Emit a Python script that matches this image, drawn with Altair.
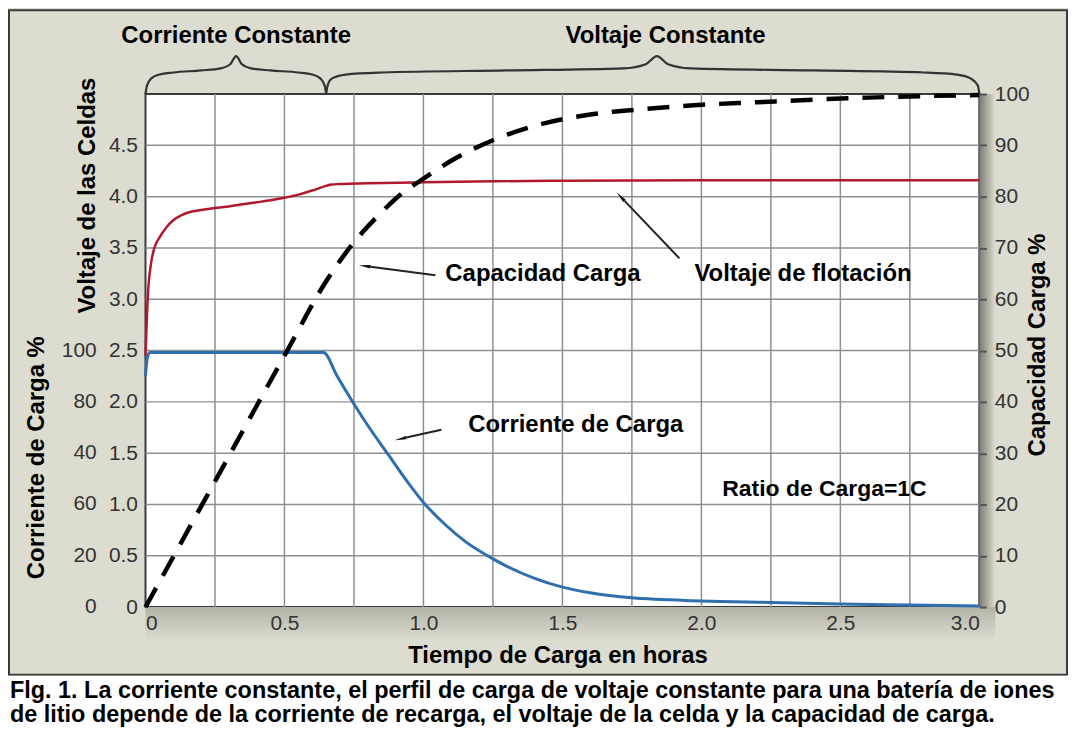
import math
import altair as alt
import pandas as pd

# ---------------- data ----------------
# Cell voltage (V) vs time (h)
red_t = [0, 0.004, 0.01, 0.02, 0.032, 0.05, 0.075, 0.1, 0.13, 0.16, 0.2, 0.25, 0.3, 0.35,
         0.4, 0.45, 0.5, 0.55, 0.6, 0.65, 0.67, 0.7, 0.8, 1.0, 1.25, 1.5, 2.0, 2.5, 3.0]
red_v = [2.45, 2.75, 3.1, 3.35, 3.5, 3.6, 3.7, 3.77, 3.82, 3.85, 3.87, 3.89, 3.905, 3.925,
         3.945, 3.965, 3.99, 4.02, 4.06, 4.105, 4.118, 4.123, 4.13, 4.14, 4.15, 4.155, 4.16, 4.16, 4.16]

# Charge current (plotted on the voltage scale, 2.5 = 100 %)
blue_t = [0, 0.006, 0.015, 0.64, 0.69, 0.75, 0.8, 0.875, 0.94, 1.0, 1.08, 1.15, 1.25, 1.4,
          1.5, 1.6, 1.75, 2.0, 2.25, 2.5, 2.75, 3.0]
blue_v = [2.25, 2.42, 2.48, 2.48, 2.25, 1.98, 1.77, 1.48, 1.23, 1.02, 0.8, 0.64, 0.47, 0.28,
          0.195, 0.14, 0.09, 0.06, 0.045, 0.03, 0.02, 0.01]

# Charge capacity (%)
cap_t = [0, 0.25, 0.5, 0.65, 0.72, 0.78, 0.85, 0.92, 1.0, 1.1, 1.25, 1.4, 1.6, 1.8, 2.0,
         2.2, 2.4, 2.6, 2.8, 3.0]
cap_p = [0, 24.5, 49, 63.5, 69, 73, 77, 80.5, 83.5, 87.0, 91.0, 93.8, 96, 97.1, 97.9,
         98.4, 98.9, 99.3, 99.6, 99.8]

# axes / tick labels
x_ticks = [0, 0.5, 1.0, 1.5, 2.0, 2.5, 3.0]
x_grid = [0.25, 0.5, 0.75, 1.0, 1.25, 1.5, 1.75, 2.0, 2.25, 2.5, 2.75]
v_ticks = [0, 0.5, 1.0, 1.5, 2.0, 2.5, 3.0, 3.5, 4.0, 4.5]
v_grid = [0.5, 1.0, 1.5, 2.0, 2.5, 3.0, 3.5, 4.0, 4.5]
cap_ticks = [0, 10, 20, 30, 40, 50, 60, 70, 80, 90, 100]
cur_tick_pos = [0, 0.5, 1.0, 1.5, 2.0, 2.5]
cur_tick_labels = ["0", "20", "60", "40", "80", "100"]

# curly braces above the plot (time, voltage-scale height)
brace1_t = [0, 0.005, 0.02, 0.05, 0.1, 0.2, 0.27, 0.305, 0.326, 0.347, 0.38, 0.45, 0.55, 0.60, 0.63, 0.645, 0.65]
brace1_v = [5.0, 5.08, 5.15, 5.19, 5.21, 5.23, 5.25, 5.29, 5.37, 5.29, 5.25, 5.23, 5.21, 5.19, 5.15, 5.08, 5.0]
brace2_t = [0.65, 0.655, 0.67, 0.72, 0.85, 1.3, 1.72, 1.80, 1.84, 1.88, 1.96, 2.4, 2.8, 2.92, 2.97, 2.995, 3.0]
brace2_v = [5.0, 5.08, 5.15, 5.19, 5.21, 5.23, 5.25, 5.29, 5.37, 5.29, 5.25, 5.23, 5.21, 5.19, 5.15, 5.08, 5.0]

# ---------------- layout / style ----------------
W, H = 837, 515
BG = "#dddcd0"
BOLD = "Liberation Sans"
LFONT = "Liberation Sans"
LBL = "#333333"
LSIZE = 21

df_red = pd.DataFrame({"t": red_t, "v": red_v})
df_blue = pd.DataFrame({"t": blue_t, "v": blue_v})
df_cap = pd.DataFrame({"t": cap_t, "p": cap_p})
df_b1 = pd.DataFrame({"t": brace1_t, "v": brace1_v, "o": range(len(brace1_t))})
df_b2 = pd.DataFrame({"t": brace2_t, "v": brace2_v, "o": range(len(brace2_t))})
df_cur = pd.DataFrame({"v": cur_tick_pos, "lab": cur_tick_labels})
dummy = pd.DataFrame({"a": [0]})

xs = alt.Scale(domain=[0, 3], nice=False)
vs = alt.Scale(domain=[0, 5], nice=False)
cs = alt.Scale(domain=[0, 100], nice=False)

x_axis = alt.Axis(values=x_ticks, grid=False, ticks=False, domain=False,
                  labelExpr="datum.value === 0 ? '0' : format(datum.value, '.1f')",
                  labelFont=LFONT, labelFontSize=LSIZE, labelColor=LBL, labelPadding=5,
                  labelFlush=True, title=None, zindex=1)
v_axis = alt.Axis(values=v_ticks, grid=False, ticks=False, domain=False,
                  labelExpr="datum.value === 0 ? '0' : format(datum.value, '.1f')",
                  labelFont=LFONT, labelFontSize=LSIZE, labelColor=LBL, labelPadding=8,
                  title=None, orient="left", zindex=1)
c_axis = alt.Axis(values=cap_ticks, grid=False, ticks=True, tickSize=7, tickWidth=2,
                  tickColor="#555555", domain=False, format="d",
                  labelFont=LFONT, labelFontSize=LSIZE, labelColor=LBL, labelPadding=8,
                  title=None, orient="right", zindex=1)


def rect(x, x2, y, y2, **kw):
    return alt.Chart(dummy).mark_rect(**kw).encode(
        x=alt.value(x), x2=alt.value(x2), y=alt.value(y), y2=alt.value(y2))


def text(s, x, y, size=24, angle=0, align="center", font=BOLD, weight="bold", color="black"):
    return alt.Chart(dummy).mark_text(
        text=s, fontSize=size, font=font, fontWeight=weight, angle=angle, align=align,
        baseline="middle", color=color).encode(x=alt.value(x), y=alt.value(y))


def arrow(x0, y0, x1, y1):
    dx, dy = x1 - x0, y1 - y0
    ln = math.hypot(dx, dy)
    ux, uy = dx / ln, dy / ln
    ang = (math.degrees(math.atan2(dx, -dy)) + 360) % 360
    hx, hy = x1 - ux * 6, y1 - uy * 6
    line = alt.Chart(dummy).mark_rule(color="#222222", strokeWidth=2).encode(
        x=alt.value(x0), y=alt.value(y0), x2=alt.value(hx - ux * 4), y2=alt.value(hy - uy * 4))
    head = alt.Chart(dummy).mark_point(shape="wedge", filled=True, size=190, color="#111111",
                                       opacity=1, angle=ang).encode(
        x=alt.value(hx), y=alt.value(hy))
    return line + head


shadow_r = rect(W, W + 16, 0, H + 30,
                color=alt.LinearGradient(gradient="linear", x1=0, x2=1, y1=0, y2=0,
                                         stops=[alt.GradientStop(color="#7d7c74", offset=0),
                                                alt.GradientStop(color=BG, offset=1)]))
shadow_b = rect(0, W + 16, H, H + 34,
                color=alt.LinearGradient(gradient="linear", x1=0, x2=0, y1=0, y2=1,
                                         stops=[alt.GradientStop(color="#b4b3a8", offset=0),
                                                alt.GradientStop(color=BG, offset=1)]))
border = rect(-137, 925, -84, 583, fill=BG, fillOpacity=0, stroke="#3a3a3a", strokeWidth=2)
white_cap = rect(-138, 926, 584, 640, color="white")

grid_x = alt.Chart(pd.DataFrame({"t": x_grid})).mark_rule(color="#8f8f8f", strokeWidth=1.5).encode(
    x=alt.X("t:Q", scale=xs, axis=x_axis))
grid_y = alt.Chart(pd.DataFrame({"v": v_grid})).mark_rule(color="#8f8f8f", strokeWidth=1.5).encode(
    y=alt.Y("v:Q", scale=vs, axis=v_axis))

red = alt.Chart(df_red).mark_line(color="#b2182b", strokeWidth=2.5, interpolate="monotone").encode(
    x=alt.X("t:Q", scale=xs), y=alt.Y("v:Q", scale=vs))
blue = alt.Chart(df_blue).mark_line(color="#2f6fae", strokeWidth=3, interpolate="monotone").encode(
    x=alt.X("t:Q", scale=xs), y=alt.Y("v:Q", scale=vs))
b1 = alt.Chart(df_b1).mark_line(color="#333333", strokeWidth=2.2, interpolate="monotone").encode(
    x=alt.X("t:Q", scale=xs), y=alt.Y("v:Q", scale=vs), order="o:Q")
b2 = alt.Chart(df_b2).mark_line(color="#333333", strokeWidth=2.2, interpolate="monotone").encode(
    x=alt.X("t:Q", scale=xs), y=alt.Y("v:Q", scale=vs), order="o:Q")
cur_labels = alt.Chart(df_cur).mark_text(font=LFONT, fontSize=LSIZE, color=LBL, align="right",
                                         baseline="middle").encode(
    x=alt.value(-49), y=alt.Y("v:Q", scale=vs), text="lab:N")

volt_layer = alt.layer(
    shadow_r, shadow_b, border, white_cap, grid_x, grid_y, red, blue, b1, b2, cur_labels,
    text("Corriente Constante", 91, -58),
    text("Voltaje Constante", 522, -58),
    text("Voltaje de las Celdas", -58, 102, angle=270),
    text("Corriente de Carga %", -109, 365, angle=270),
    text("Capacidad Carga %", 896, 252, angle=270),
    text("Tiempo de Carga en horas", 414, 564),
    text("Capacidad Carga", 301, 181, align="left"),
    text("Voltaje de flotación", 551, 181, align="left"),
    text("Corriente de Carga", 324, 332, align="left"),
    text("Ratio de Carga=1C", 579, 396, align="left", size=23),
    arrow(291, 182, 216, 172),
    arrow(536, 165, 474, 100),
    arrow(297, 337, 252, 347),
    text("Flg. 1. La corriente constante, el perfil de carga de voltaje constante para una batería de iones",
         -136, 599, size=23.5, align="left"),
    text("de litio depende de la corriente de recarga, el voltaje de la celda y la capacidad de carga.",
         -136, 623, size=23.5, align="left"),
)

cap = alt.Chart(df_cap).mark_line(color="black", strokeWidth=4.5, strokeDash=[22, 14],
                                  interpolate="monotone").encode(
    x=alt.X("t:Q", scale=xs), y=alt.Y("p:Q", scale=cs, axis=c_axis))

chart = alt.layer(volt_layer, cap).resolve_scale(y="independent").properties(
    width=W, height=H,
    padding={"left": 138, "top": 85, "right": 89, "bottom": 120},
    autosize=alt.AutoSizeParams(type="none"),
    background=BG,
).configure_view(fill="white", stroke="#3a3a3a", strokeWidth=2)

chart.save("out.html", embed_options={"renderer": "svg", "actions": False})
